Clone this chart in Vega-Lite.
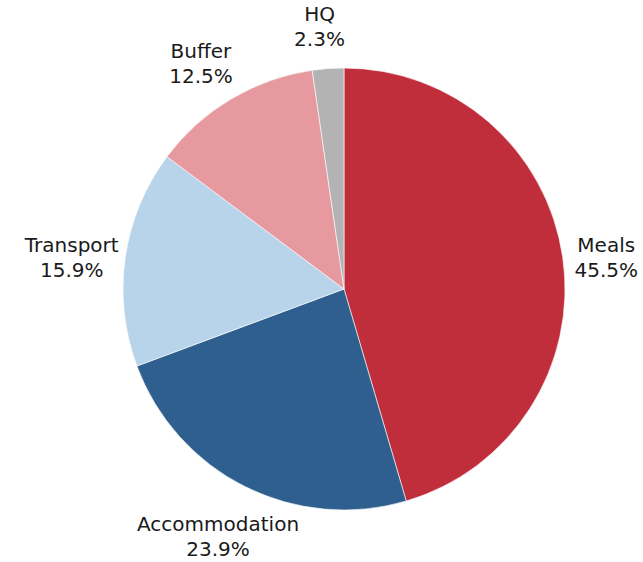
{
  "$schema": "https://vega.github.io/schema/vega-lite/v6.json",
  "width": 598,
  "height": 546,
  "autosize": {"type": "none"},
  "padding": {"left": 45, "top": 16, "right": 0, "bottom": 0},
  "background": "white",
  "view": {"stroke": null},
  "data": {
    "values": [
      {"category": "Meals", "share": 45.5, "order": 1},
      {"category": "Accommodation", "share": 23.9, "order": 2},
      {"category": "Transport", "share": 15.9, "order": 3},
      {"category": "Buffer", "share": 12.5, "order": 4},
      {"category": "HQ", "share": 2.3, "order": 5}
    ]
  },
  "transform": [
    {"calculate": "datum.category + '\\n' + format(datum.share, '.1f') + '%'", "as": "label"}
  ],
  "encoding": {
    "theta": {"field": "share", "type": "quantitative", "stack": true},
    "order": {"field": "order", "type": "quantitative"}
  },
  "layer": [
    {
      "mark": {"type": "arc", "outerRadius": 221, "stroke": "white", "strokeWidth": 0.6},
      "encoding": {
        "color": {
          "field": "category",
          "type": "nominal",
          "sort": ["Meals", "Accommodation", "Transport", "Buffer", "HQ"],
          "scale": {
            "domain": ["Meals", "Accommodation", "Transport", "Buffer", "HQ"],
            "range": ["#c12e3b", "#2e5f8e", "#b8d4ea", "#e69aa0", "#b3b3b3"]
          },
          "legend": null
        }
      }
    },
    {
      "mark": {
        "type": "text",
        "radius": 270,
        "dx": -5,
        "dy": -5,
        "align": "center",
        "baseline": "middle",
        "lineBreak": "\n",
        "lineHeight": 25,
        "font": "DejaVu Sans",
        "fontSize": 20,
        "color": "#1a1a1a"
      },
      "encoding": {
        "text": {"field": "label", "type": "nominal"}
      }
    }
  ]
}
